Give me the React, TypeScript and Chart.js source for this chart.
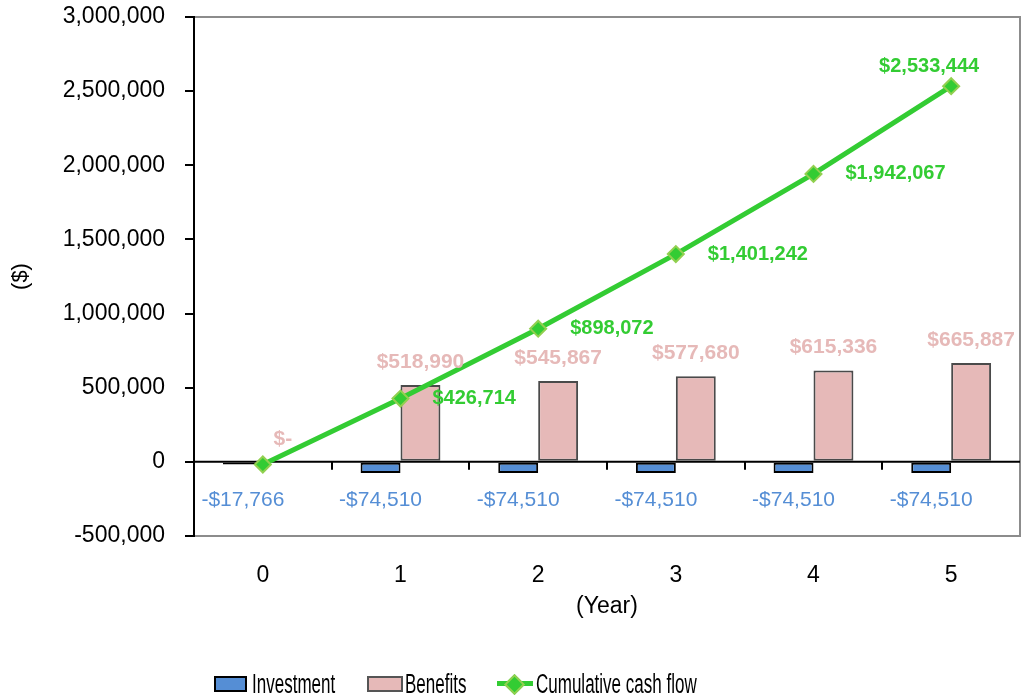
import React, { useEffect, useRef } from 'react';
import { Chart, registerables } from 'chart.js';

Chart.register(...registerables);

// Year-by-year cash flow figures
const years = ['0', '1', '2', '3', '4', '5'];
const investment = [-17766, -74510, -74510, -74510, -74510, -74510];
const benefits = [0, 518990, 545867, 577680, 615336, 665887];
const cumulative = [-17766, 426714, 898072, 1401242, 1942067, 2533444];
const yTicks = [-500000, 0, 500000, 1000000, 1500000, 2000000, 2500000, 3000000];

const FONT = '"Liberation Sans", Arial, Helvetica, sans-serif';
const BLUE = '#558ED5';
const PINK = '#E6B9B8';
const GREEN = '#33CC33';
const MARKER_EDGE = '#92D050';

const money = (v: number) =>
  v === 0 ? '$-' : (v < 0 ? '-' : '') + '$' + Math.abs(v).toLocaleString('en-US');

// Plot frame, zero line with category ticks
const framePlugin = {
  id: 'frame',
  beforeDatasetsDraw(chart: any) {
    const { ctx, chartArea: a, scales } = chart;
    const y0 = scales.y.getPixelForValue(0);
    ctx.save();
    ctx.strokeStyle = '#8c8c8c';
    ctx.lineWidth = 2;
    ctx.beginPath();
    ctx.moveTo(a.left + 1, a.top);
    ctx.lineTo(a.right, a.top);
    ctx.lineTo(a.right, a.bottom);
    ctx.lineTo(a.left + 1, a.bottom);
    ctx.stroke();

    ctx.strokeStyle = '#000';
    ctx.lineWidth = 2;
    ctx.beginPath();
    ctx.moveTo(a.left, y0);
    ctx.lineTo(a.right, y0);
    const n = years.length;
    const w = (a.right - a.left) / n;
    for (let i = 1; i < n; i++) {
      const x = Math.round(a.left + i * w);
      ctx.moveTo(x, y0);
      ctx.lineTo(x, y0 + 8);
    }
    ctx.stroke();
    ctx.restore();
  },
};

// Value labels for the three series
const labelPlugin = {
  id: 'valueLabels',
  afterDatasetsDraw(chart: any) {
    const { ctx, scales } = chart;
    const y0 = scales.y.getPixelForValue(0);
    ctx.save();
    ctx.textAlign = 'center';
    ctx.textBaseline = 'middle';

    ctx.font = `21px ${FONT}`;
    ctx.fillStyle = BLUE;
    chart.getDatasetMeta(0).data.forEach((el: any, i: number) => {
      ctx.fillText(money(investment[i]), el.x, y0 + 38);
    });

    ctx.font = `bold 21px ${FONT}`;
    ctx.fillStyle = PINK;
    chart.getDatasetMeta(1).data.forEach((el: any, i: number) => {
      ctx.fillText(money(benefits[i]), el.x, el.y - 23);
    });

    ctx.font = `bold 20px ${FONT}`;
    ctx.fillStyle = GREEN;
    const pts = chart.getDatasetMeta(2).data;
    pts.forEach((el: any, i: number) => {
      if (i === 0) return;
      if (i === pts.length - 1) {
        ctx.textAlign = 'center';
        ctx.fillText(money(cumulative[i]), el.x - 22, el.y - 20);
      } else {
        ctx.textAlign = 'left';
        ctx.fillText(money(cumulative[i]), el.x + 32, el.y);
      }
    });
    ctx.restore();
  },
};

const legendText: React.CSSProperties = {
  position: 'absolute',
  top: 669,
  fontFamily: FONT,
  fontSize: 27,
  lineHeight: '31px',
  color: '#000',
  whiteSpace: 'nowrap',
  transform: 'scaleX(0.63)',
  transformOrigin: 'left center',
};

export default function App() {
  const canvasRef = useRef<HTMLCanvasElement | null>(null);

  useEffect(() => {
    const canvas = canvasRef.current;
    if (!canvas) return;
    const chart = new Chart(canvas, {
      type: 'bar',
      data: {
        labels: years,
        datasets: [
          {
            type: 'bar',
            label: 'Investment',
            data: investment,
            backgroundColor: BLUE,
            borderColor: '#000',
            borderWidth: 2,
            borderSkipped: false,
            categoryPercentage: 0.58,
            barPercentage: 1,
            order: 1,
          },
          {
            type: 'bar',
            label: 'Benefits',
            data: benefits,
            backgroundColor: PINK,
            borderColor: '#4a4a4a',
            borderWidth: 2,
            borderSkipped: false,
            categoryPercentage: 0.58,
            barPercentage: 1,
            order: 2,
          },
          {
            type: 'line',
            label: 'Cumulative cash flow',
            data: cumulative,
            borderColor: GREEN,
            borderWidth: 5,
            pointStyle: 'rectRot',
            pointRadius: 8,
            pointBackgroundColor: GREEN,
            pointBorderColor: MARKER_EDGE,
            pointBorderWidth: 2,
            tension: 0,
            order: 0,
          },
        ] as any,
      },
      options: {
        responsive: false,
        animation: false,
        layout: { autoPadding: false, padding: { top: 17, left: 0, right: 1, bottom: 54 } },
        plugins: {
          legend: { display: false },
          tooltip: { enabled: false },
        },
        scales: {
          x: {
            grid: { display: false, drawTicks: false },
            border: { display: false },
            ticks: { color: '#000', font: { family: FONT, size: 23 }, padding: 26 },
            title: {
              display: true,
              text: '(Year)',
              color: '#000',
              font: { family: FONT, size: 23 },
              padding: { top: 0, bottom: 26 },
            },
            afterFit: (s: any) => {
              s.height = 110;
              s.paddingLeft = 0;
              s.paddingRight = 0;
            },
          },
          y: {
            min: yTicks[0],
            max: yTicks[yTicks.length - 1],
            afterBuildTicks: (s: any) => {
              s.ticks = yTicks.map((v) => ({ value: v }));
            },
            ticks: {
              color: '#000',
              font: { family: FONT, size: 23 },
              padding: 20,
              callback: (v: any) => Number(v).toLocaleString('en-US'),
            },
            grid: {
              drawOnChartArea: false,
              drawTicks: true,
              tickLength: 9,
              color: '#000',
              lineWidth: 2,
            },
            border: { display: true, color: '#000', width: 2 },
            title: {
              display: true,
              text: '($)',
              color: '#000',
              font: { family: FONT, size: 22 },
              padding: { top: 8, bottom: 0 },
            },
            afterFit: (s: any) => {
              s.width = 194;
              s.paddingTop = 0;
              s.paddingBottom = 0;
            },
          },
        },
      } as any,
      plugins: [framePlugin, labelPlugin],
    });
    return () => chart.destroy();
  }, []);

  return (
    <div style={{ position: 'absolute', left: 0, top: 0, width: 1021, height: 700, background: '#fff' }}>
      <canvas ref={canvasRef} width={1021} height={700} style={{ display: 'block' }} />
      <div
        style={{
          position: 'absolute', left: 214, top: 676, width: 29, height: 12,
          background: BLUE, border: '2px solid #000',
        }}
      />
      <span style={{ ...legendText, left: 252 }}>Investment</span>
      <div
        style={{
          position: 'absolute', left: 367, top: 676, width: 32, height: 12,
          background: PINK, border: '2px solid #555',
        }}
      />
      <span style={{ ...legendText, left: 405 }}>Benefits</span>
      <div style={{ position: 'absolute', left: 497, top: 681, width: 36, height: 5, background: GREEN }} />
      <div
        style={{
          position: 'absolute', left: 507, top: 677, width: 11, height: 11,
          background: GREEN, border: `2px solid ${MARKER_EDGE}`, transform: 'rotate(45deg)',
        }}
      />
      <span style={{ ...legendText, left: 536 }}>Cumulative cash flow</span>
    </div>
  );
}
